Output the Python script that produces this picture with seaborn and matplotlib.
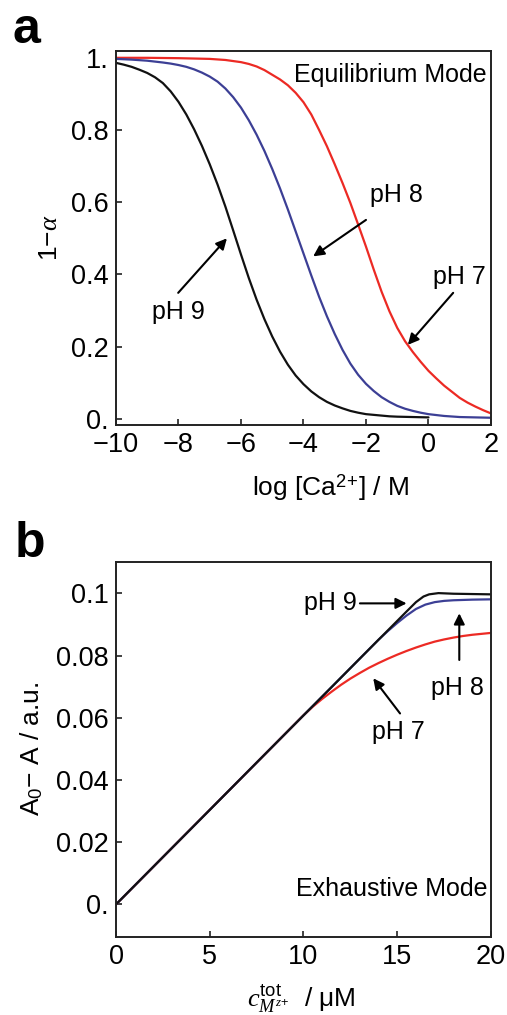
import matplotlib
matplotlib.use('Agg')
import pandas as pd
import matplotlib.pyplot as plt
import seaborn as sns

# ---- panel a : equilibrium mode ----
LOGCA_PH9 = [-10, -9.75, -9.5, -9.25, -9, -8.75, -8.5, -8.25, -8, -7.75, -7.5,
             -7.25, -7, -6.75, -6.5, -6.25, -6, -5.75, -5.5, -5.25, -5, -4.75,
             -4.5, -4.25, -4, -3.75, -3.5, -3.25, -3, -2.75, -2.5, -2.25, -2,
             -1.75, -1.5, -1.25, -1, -0.5, 0]
ALPHA_PH9 = [0.986, 0.981, 0.975, 0.967, 0.958, 0.946, 0.93, 0.907, 0.878, 0.843,
             0.802, 0.756, 0.705, 0.649, 0.588, 0.522, 0.455, 0.39, 0.33, 0.276,
             0.228, 0.186, 0.15, 0.12, 0.096, 0.076, 0.06, 0.047, 0.037, 0.029,
             0.022, 0.017, 0.013, 0.011, 0.009, 0.007, 0.006, 0.005, 0.004]

LOGCA_PH8 = [-10, -9.5, -9, -8.5, -8.25, -8, -7.75, -7.5, -7.25, -7, -6.75, -6.5,
             -6.25, -6, -5.75, -5.5, -5.25, -5, -4.75, -4.5, -4.25, -4, -3.75,
             -3.5, -3.25, -3, -2.75, -2.5, -2.25, -2, -1.75, -1.5, -1.25, -1,
             -0.75, -0.5, -0.25, 0, 0.5, 1, 1.5, 2]
ALPHA_PH8 = [0.997, 0.995, 0.992, 0.987, 0.984, 0.98, 0.975, 0.968, 0.959, 0.948,
             0.934, 0.915, 0.891, 0.862, 0.827, 0.787, 0.742, 0.692, 0.638, 0.58,
             0.519, 0.458, 0.397, 0.338, 0.284, 0.235, 0.191, 0.153, 0.122, 0.097,
             0.077, 0.06, 0.047, 0.036, 0.028, 0.022, 0.017, 0.013, 0.008, 0.005,
             0.004, 0.003]

LOGCA_PH7 = [-10, -9, -8, -7.5, -7, -6.5, -6.25, -6, -5.75, -5.5, -5.25, -5,
             -4.75, -4.5, -4.25, -4, -3.75, -3.5, -3.25, -3, -2.75, -2.5, -2.25,
             -2, -1.75, -1.5, -1.25, -1, -0.75, -0.5, -0.25, 0, 0.25, 0.5, 0.75,
             1, 1.25, 1.5, 1.75, 2]
ALPHA_PH7 = [1.0, 1.0, 0.999, 0.998, 0.997, 0.994, 0.991, 0.988, 0.983, 0.976,
             0.966, 0.953, 0.94, 0.924, 0.903, 0.877, 0.843, 0.8, 0.755, 0.705,
             0.653, 0.598, 0.538, 0.477, 0.413, 0.352, 0.298, 0.252, 0.215, 0.185,
             0.158, 0.133, 0.112, 0.092, 0.075, 0.058, 0.045, 0.034, 0.024, 0.015]

# ---- panel b : exhaustive mode ----
CTOT_PH9 = [0, 15.5, 16.0, 16.4, 16.7, 17.2, 18, 19, 20]
DA_PH9 = [0, 0.0942, 0.0972, 0.0990, 0.0997, 0.1001, 0.0999, 0.0998, 0.0997]

CTOT_PH8 = [0, 14, 14.5, 15, 15.5, 16, 16.5, 17, 17.5, 18, 19, 20]
DA_PH8 = [0, 0.0851, 0.0879, 0.0905, 0.0929, 0.0950, 0.0964, 0.0972, 0.0976,
          0.0978, 0.098, 0.0981]

CTOT_PH7 = [0, 10, 10.5, 11, 11.5, 12, 12.5, 13, 13.5, 14, 14.5, 15, 15.5, 16,
            16.5, 17, 17.5, 18, 18.5, 19, 19.5, 20]
DA_PH7 = [0, 0.0608, 0.0636, 0.0661, 0.0684, 0.0706, 0.0726, 0.0744, 0.0761,
          0.0776, 0.079, 0.0803, 0.0815, 0.0826, 0.0836, 0.0845, 0.0852, 0.0858,
          0.0863, 0.0867, 0.087, 0.0873]

XTICKS_A = [-10, -8, -6, -4, -2, 0, 2]
XTICKLABELS_A = ['\u221210', '\u22128', '\u22126', '\u22124', '\u22122', '0', '2']
YTICKS_A = [0, 0.2, 0.4, 0.6, 0.8, 1.0]
YTICKLABELS_A = ['0.', '0.2', '0.4', '0.6', '0.8', '1.']
XTICKS_B = [0, 5, 10, 15, 20]
YTICKS_B = [0, 0.02, 0.04, 0.06, 0.08, 0.1]
YTICKLABELS_B = ['0.', '0.02', '0.04', '0.06', '0.08', '0.1']

RED = '#ec2a24'
BLUE = '#3c3f95'
BLACK = '#111111'

sns.set_style('ticks')
plt.rcParams['font.family'] = ['Liberation Sans', 'DejaVu Sans']
plt.rcParams['mathtext.fontset'] = 'custom'
plt.rcParams['mathtext.rm'] = 'Liberation Sans'
plt.rcParams['mathtext.it'] = 'Liberation Serif:italic'
plt.rcParams['mathtext.bf'] = 'Liberation Sans:bold'
for key in ('text.color', 'axes.labelcolor', 'xtick.color', 'ytick.color'):
    plt.rcParams[key] = 'black'

df_a = pd.concat([
    pd.DataFrame({'logca': LOGCA_PH7, 'val': ALPHA_PH7, 'pH': 'pH 7'}),
    pd.DataFrame({'logca': LOGCA_PH8, 'val': ALPHA_PH8, 'pH': 'pH 8'}),
    pd.DataFrame({'logca': LOGCA_PH9, 'val': ALPHA_PH9, 'pH': 'pH 9'}),
])
df_b = pd.concat([
    pd.DataFrame({'ctot': CTOT_PH7, 'val': DA_PH7, 'pH': 'pH 7'}),
    pd.DataFrame({'ctot': CTOT_PH8, 'val': DA_PH8, 'pH': 'pH 8'}),
    pd.DataFrame({'ctot': CTOT_PH9, 'val': DA_PH9, 'pH': 'pH 9'}),
])
palette = {'pH 7': RED, 'pH 8': BLUE, 'pH 9': BLACK}

fig = plt.figure(figsize=(5.07, 10.15), dpi=100)
ax_a = fig.add_axes([0.2288, 0.5813, 0.7396, 0.3685])
ax_b = fig.add_axes([0.2288, 0.0771, 0.7396, 0.3695])

sns.lineplot(data=df_a, x='logca', y='val', hue='pH', palette=palette,
             estimator=None, sort=False, lw=1.6, legend=False, ax=ax_a)
sns.lineplot(data=df_b, x='ctot', y='val', hue='pH', palette=palette,
             estimator=None, sort=False, lw=1.6, legend=False, ax=ax_b)

arrow = dict(arrowstyle='-|>', color='black', lw=1.5, mutation_scale=16,
             shrinkA=0, shrinkB=0)
tick_fs = 19.5
ann_fs = 18
lab_fs = 19

# panel a styling
ax_a.set_xlim(-10, 2)
ax_a.set_ylim(-0.017, 1.019)
ax_a.set_xticks(XTICKS_A, XTICKLABELS_A)
ax_a.set_yticks(YTICKS_A, YTICKLABELS_A)
ax_a.set_xlabel('log [Ca$^{\\rm 2\\!+\\!}$] / M', fontsize=lab_fs)
ax_a.set_ylabel('1\u2212$\\alpha$', fontsize=lab_fs)
ax_a.xaxis.set_label_coords(0.573, -0.125)
ax_a.yaxis.set_label_coords(-0.144, 0.5)
ax_a.text(1.87, 0.953, 'Equilibrium Mode', ha='right', va='center', fontsize=ann_fs)
ax_a.text(-1.04, 0.62, 'pH 8', ha='center', va='center', fontsize=ann_fs)
ax_a.annotate('', xy=(-3.69, 0.45), xytext=(-2.0, 0.551), arrowprops=arrow)
ax_a.text(0.98, 0.394, 'pH 7', ha='center', va='center', fontsize=ann_fs)
ax_a.annotate('', xy=(-0.66, 0.205), xytext=(0.79, 0.349), arrowprops=arrow)
ax_a.text(-8.01, 0.296, 'pH 9', ha='center', va='center', fontsize=ann_fs)
ax_a.annotate('', xy=(-6.45, 0.50), xytext=(-8.01, 0.349), arrowprops=arrow)

# panel b styling
ax_b.set_xlim(0, 20)
ax_b.set_ylim(-0.0104, 0.1102)
ax_b.set_xticks(XTICKS_B)
ax_b.set_yticks(YTICKS_B, YTICKLABELS_B)
ax_b.set_xlabel('$c^{\\rm tot}_{M^{z\\!+\\!}}$  / \u03bcM', fontsize=lab_fs)
ax_b.set_ylabel('A$_{\\rm 0}$\u2212 A / a.u.', fontsize=lab_fs)
ax_b.xaxis.set_label_coords(0.495, -0.122)
ax_b.yaxis.set_label_coords(-0.189, 0.5)
ax_b.text(19.79, 0.0051, 'Exhaustive Mode', ha='right', va='center', fontsize=ann_fs)
ax_b.text(11.41, 0.0968, 'pH 9', ha='center', va='center', fontsize=ann_fs)
ax_b.annotate('', xy=(15.5, 0.0968), xytext=(13.01, 0.0968), arrowprops=arrow)
ax_b.text(18.2, 0.0695, 'pH 8', ha='center', va='center', fontsize=ann_fs)
ax_b.annotate('', xy=(18.31, 0.0936), xytext=(18.31, 0.0786), arrowprops=arrow)
ax_b.text(15.06, 0.0555, 'pH 7', ha='center', va='center', fontsize=ann_fs)
ax_b.annotate('', xy=(13.72, 0.0727), xytext=(15.15, 0.0614), arrowprops=arrow)

for ax in (ax_a, ax_b):
    ax.tick_params(direction='in', length=4, width=1.2, labelsize=tick_fs,
                   pad=5, color='#222222')
    for sp in ax.spines.values():
        sp.set_visible(True)
        sp.set_linewidth(1.4)
        sp.set_color('#222222')

fig.text(13 / 507, 1 - 43 / 1015, 'a', fontsize=36, fontweight='bold', va='baseline')
fig.text(15 / 507, 1 - 557 / 1015, 'b', fontsize=36, fontweight='bold', va='baseline')

fig.savefig('out.png', dpi=100)
